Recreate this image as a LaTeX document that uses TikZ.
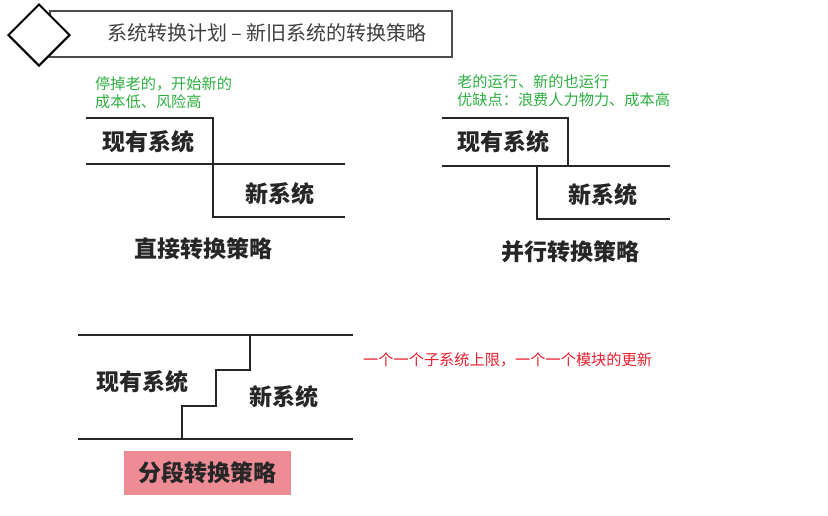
\documentclass[tikz,border=0pt]{standalone}
\usepackage{fontspec}
\newfontfamily\cjk{Noto Sans CJK SC}
\usetikzlibrary{shapes.geometric}
\definecolor{notegreen}{RGB}{45,175,65}
\definecolor{notered}{RGB}{232,30,45}
\definecolor{tagpink}{RGB}{238,140,150}
\begin{document}
\begin{tikzpicture}[x=1pt,y=-1pt,
  bar/.style={line width=2.4pt, black!85},
  sys/.style={font=\cjk\bfseries\fontsize{23}{23}\selectfont, text=black!85, inner sep=0pt},
  note/.style={font=\cjk\fontsize{15.2}{18.5}\selectfont, align=left, anchor=north west, inner sep=0pt}]
\useasboundingbox (0,0) rectangle (828,515);
% title
\draw [black!70, line width=1.6pt] (50,11) rectangle (452,57);
\node (mark) [diamond, draw, line width=2pt, fill=white, minimum width=62pt, minimum height=62pt, inner sep=0pt] at (39,35) {};
\node (title) [font=\cjk\fontsize{20}{20}\selectfont, text=black!75] at (267,33) {系统转换计划 – 新旧系统的转换策略};
% direct
\coordinate (d1) at (86,118); \coordinate (d2) at (213,118);
\coordinate (d3) at (86,164); \coordinate (d4) at (345,164);
\coordinate (d5) at (213,217); \coordinate (d6) at (345,217);
\draw [bar] (d1) -- (d2) -- (d5) -- (d6);
\draw [bar] (d3) -- (d4);
\node (dold) [sys] at (148,142) {现有系统};
\node (dnew) [sys] at (280,194) {新系统};
\node (dname) [sys] at (203,249) {直接转换策略};
\node (dnote) [note, text=notegreen] at (95,76) {停掉老的，开始新的\\成本低、风险高};
% parallel
\coordinate (p1) at (442,118); \coordinate (p2) at (568,118);
\coordinate (p3) at (442,166); \coordinate (p4) at (670,166);
\coordinate (p5) at (537,166); \coordinate (p6) at (537,219);
\coordinate (p7) at (670,219);
\draw [bar] (p1) -- (p2) -- (p2 |- p3);
\draw [bar] (p3) -- (p4);
\draw [bar] (p5) -- (p6) -- (p7);
\node (pold) [sys] at (503,142) {现有系统};
\node (pnew) [sys] at (603,195) {新系统};
\node (pname) [sys] at (570,252) {并行转换策略};
\node (pnote) [note, text=notegreen] at (457,74) {老的运行、新的也运行\\优缺点：浪费人力物力、成本高};
% phased
\coordinate (s1) at (78,335); \coordinate (s2) at (353,335);
\coordinate (s3) at (78,439); \coordinate (s4) at (353,439);
\draw [bar] (s1) -- (s2);
\draw [bar] (s3) -- (s4);
\draw [bar] (250,335) -- (250,370) -- (216,370) -- (216,406) -- (182,406) -- (182,439);
\node (sold) [sys] at (142,382) {现有系统};
\node (snew) [sys] at (284,397) {新系统};
\node (sname) [sys, fill=tagpink, minimum width=167pt, minimum height=44pt] at (207,473) {分段转换策略};
\node (snote) [note, anchor=west, text=notered] at (363,360) {一个一个子系统上限，一个一个模块的更新};
\end{tikzpicture}
\end{document}
